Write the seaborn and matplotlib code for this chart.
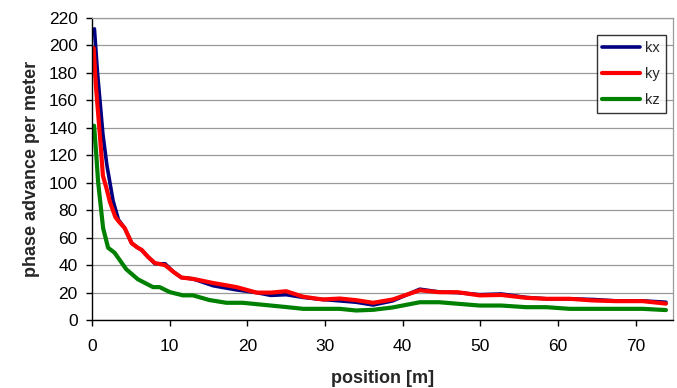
import matplotlib
matplotlib.use("Agg")
import numpy as np
import pandas as pd
import matplotlib.pyplot as plt
import seaborn as sns

# ── data ──────────────────────────────────────────────────────────────────────
kx_pos = [0.3, 0.7, 1.4, 1.9, 2.7, 3.4, 4.2, 5.1, 5.8, 6.4, 7.2, 8.1, 9.4, 10.5,
          11.5, 13.0, 15.6, 18.6, 21.2, 23.0, 25.0, 27.2, 29.7, 31.9, 34.0, 36.2,
          38.7, 42.2, 44.7, 47.1, 49.9, 52.7, 55.9, 58.5, 61.5, 64.5, 67.5, 70.9, 73.9]
kx_val = [212, 180, 135, 113, 87, 73, 67, 56, 53, 51, 46, 41, 41, 35,
          31, 30, 25, 22, 20, 18, 18.5, 16.5, 15, 14, 13, 11,
          14, 22.5, 20.5, 20, 18.5, 19, 16.5, 15.5, 15.5, 15, 14, 14, 13]

ky_pos = [0.2, 0.5, 1.0, 1.4, 1.9, 2.3, 3.0, 3.4, 4.2, 5.1, 5.8, 6.4, 7.2, 8.1,
          9.4, 10.5, 11.5, 13.0, 15.6, 18.6, 21.2, 23.0, 25.0, 27.2, 29.7, 31.9,
          34.0, 36.2, 38.7, 42.2, 44.7, 47.1, 49.9, 52.7, 55.9, 58.5, 61.5, 64.5,
          67.5, 70.9, 73.9]
ky_val = [198, 170, 135, 105, 95, 86, 75, 72, 67, 56, 53, 51, 46, 41.5,
          40, 35, 31, 30, 27, 24, 20, 20, 21, 17, 15, 15.7,
          14.5, 12.6, 15, 21.7, 20.3, 20.3, 18, 18.3, 16.2, 15.5, 15.5, 14.3,
          13.8, 13.8, 12]

kz_pos = [0.26, 0.57, 0.77, 1.42, 2.06, 2.9, 4.4, 5.9, 7.85, 8.7, 10.0, 11.7,
          13.0, 15.1, 17.3, 19.4, 25.0, 27.2, 31.9, 34.0, 36.2, 38.7, 42.2,
          44.7, 49.9, 52.7, 55.9, 58.5, 61.5, 70.9, 73.9]
kz_val = [141.5, 118, 101, 67, 52.7, 49, 37, 29.7, 24, 24, 20.4, 18,
          18, 14.6, 12.6, 12.6, 9.5, 8.2, 8.2, 7, 7.5, 9.2, 13,
          13, 10.6, 10.6, 9.4, 9.4, 8.2, 8.2, 7.3]

series_names = ["kx", "ky", "kz"]
series_colors = ["#000080", "#ff0000", "#008000"]
series_widths = [2.6, 3.0, 3.0]

y_ticks = list(range(0, 221, 20))
x_ticks = list(range(0, 71, 10))

# ── plot ──────────────────────────────────────────────────────────────────────
sns.set_style("white")
plt.rcParams["font.family"] = ["Liberation Sans", "DejaVu Sans"]

fig = plt.figure(figsize=(6.77, 3.88), dpi=100)
ax = fig.add_axes([0.136, 0.175, 0.858, 0.779])

data = [(kx_pos, kx_val), (ky_pos, ky_val), (kz_pos, kz_val)]
for name, (xs, ys), col, lw in zip(series_names, data, series_colors, series_widths):
    df = pd.DataFrame({"position": xs, "value": ys})
    sns.lineplot(data=df, x="position", y="value", ax=ax, color=col,
                 linewidth=lw, label=name, sort=False)

ax.set_xlim(0, 74.8)
ax.set_ylim(0, 220)
ax.set_yticks(y_ticks)
ax.set_xticks(x_ticks)
ax.yaxis.grid(True, color="#9a9a9a", linewidth=0.9)
ax.xaxis.grid(False)

for side in ["top", "right"]:
    ax.spines[side].set_color("#9a9a9a")
    ax.spines[side].set_linewidth(0.9)
for side in ["left", "bottom"]:
    ax.spines[side].set_color("black")
    ax.spines[side].set_linewidth(1.0)

ax.tick_params(axis="both", labelsize=12.5, colors="black", direction="out",
               length=4.3, width=1, bottom=True, left=True)
ax.tick_params(axis="x", pad=9)
ax.tick_params(axis="y", pad=6)

ax.set_xlabel("position [m]", fontsize=13, fontweight="bold", labelpad=12)
ax.set_ylabel("phase advance per meter", fontsize=13, fontweight="bold", labelpad=6)

leg = ax.legend(loc="upper right", bbox_to_anchor=(0.988, 0.944), fontsize=10.5,
                frameon=True, fancybox=False, edgecolor="black",
                handlelength=2.6, handletextpad=0.35, borderpad=0.4,
                labelspacing=0.85, borderaxespad=0.0)
leg.get_frame().set_linewidth(1.0)

fig.savefig("out.png", dpi=100)
plt.close(fig)
